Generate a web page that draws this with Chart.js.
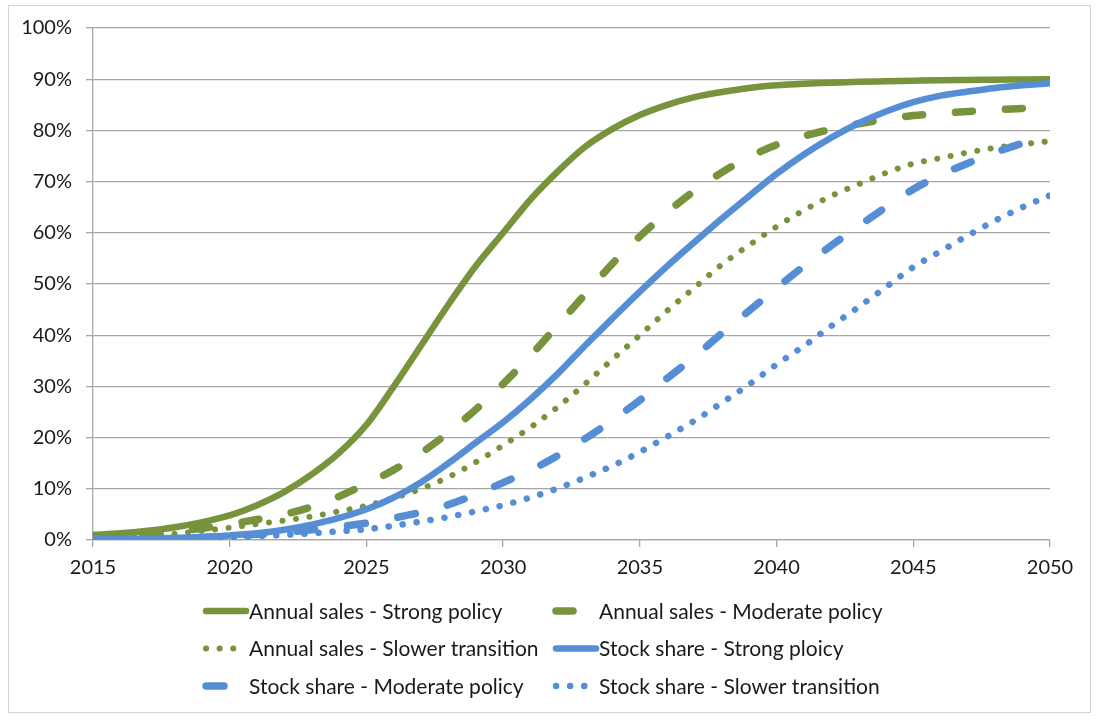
<!DOCTYPE html>
<html>
<head>
<meta charset="utf-8">
<script src="https://cdn.jsdelivr.net/npm/chart.js@4.4.1/dist/chart.umd.min.js"></script>
<style>
  html, body { margin: 0; padding: 0; background: #fff; }
  #wrap { position: relative; width: 1100px; height: 720px; }
  #frame { position: absolute; left: 8px; top: 5px; width: 1081px; height: 706px;
           border: 1px solid #d4d4d4; pointer-events: none; }
</style>
</head>
<body>
<div id="wrap">
  <canvas id="chart" width="1100" height="720"></canvas>
  <div id="frame"></div>
</div>
<script>
const years = [2015, 2016, 2017, 2018, 2019, 2020, 2021, 2022, 2023, 2024, 2025, 2026,
  2027, 2028, 2029, 2030, 2031, 2032, 2033, 2034, 2035, 2036, 2037, 2038,
  2039, 2040, 2041, 2042, 2043, 2044, 2045, 2046, 2047, 2048, 2049, 2050];

const salesStrong = [1.0, 1.3, 1.8, 2.5, 3.5, 4.8, 6.8, 9.4, 12.8, 17.0, 22.5, 30.0,
  38.0, 46.0, 53.5, 60.0, 66.5, 72.0, 76.8, 80.3, 83.0, 85.0, 86.5, 87.5,
  88.3, 88.8, 89.1, 89.3, 89.5, 89.6, 89.7, 89.8, 89.85, 89.9, 89.95, 90.0];

const salesModerate = [0.5, 0.8, 1.2, 1.7, 2.3, 3.1, 4.0, 5.0, 6.5, 8.5, 11.0, 13.7,
  17.0, 21.0, 25.5, 30.5, 36.0, 42.0, 48.0, 54.0, 59.3, 64.0, 68.2, 71.8,
  74.8, 77.2, 78.9, 80.2, 81.3, 82.2, 82.9, 83.3, 83.7, 84.0, 84.3, 84.5];

const salesSlower = [0.3, 0.5, 0.8, 1.2, 1.8, 2.4, 3.1, 3.8, 4.6, 5.6, 6.7, 8.2,
  10.0, 12.3, 15.2, 18.5, 22.0, 26.0, 30.5, 35.3, 40.0, 44.8, 49.3, 53.8,
  57.6, 61.2, 64.4, 67.2, 69.5, 71.7, 73.5, 74.6, 75.7, 76.6, 77.3, 77.9];

const stockStrong = [0.2, 0.2, 0.3, 0.4, 0.6, 0.9, 1.3, 2.0, 3.0, 4.3, 6.0, 8.3,
  11.3, 15.0, 19.0, 23.0, 27.5, 32.5, 38.0, 43.3, 48.5, 53.5, 58.2, 62.8,
  67.2, 71.5, 75.3, 78.6, 81.4, 83.7, 85.5, 86.8, 87.6, 88.3, 88.8, 89.2];

const stockModerate = [0.1, 0.15, 0.2, 0.35, 0.5, 0.8, 1.1, 1.5, 2.0, 2.6, 3.3, 4.3,
  5.4, 6.9, 8.9, 11.2, 13.6, 16.5, 19.8, 23.4, 27.3, 31.6, 35.8, 40.4,
  44.8, 49.2, 53.5, 57.5, 61.3, 65.0, 68.5, 71.3, 73.6, 75.7, 77.5, 79.1];

const stockSlower = [0.1, 0.15, 0.2, 0.3, 0.4, 0.55, 0.75, 1.0, 1.3, 1.7, 2.1, 2.8,
  3.6, 4.5, 5.6, 6.8, 8.3, 10.1, 12.2, 14.5, 17.2, 20.2, 23.3, 26.8,
  30.4, 34.3, 37.9, 41.8, 45.5, 49.4, 53.3, 56.4, 59.5, 62.4, 65.0, 67.3];

const seriesNames = [
  "Annual sales - Strong policy",
  "Annual sales - Moderate policy",
  "Annual sales - Slower transition",
  "Stock share - Strong ploicy",
  "Stock share - Moderate policy",
  "Stock share - Slower transition"
];

const GREEN = "#77933C";
const BLUE = "#558ED5";
const FONT = "Lato, 'Open Sans', sans-serif";

const toXY = (vals) => vals.map((v, i) => ({ x: years[i], y: v }));

// style per series: colour, width, dash
const styles = [
  { c: GREEN, w: 6.5, dash: [] },
  { c: GREEN, w: 7.5, dash: [17, 33] },
  { c: GREEN, w: 6, dash: [0.1, 13.5] },
  { c: BLUE, w: 6.5, dash: [] },
  { c: BLUE, w: 7.5, dash: [18, 33] },
  { c: BLUE, w: 6.5, dash: [0.1, 14] }
];

const allSeries = [salesStrong, salesModerate, salesSlower, stockStrong, stockModerate, stockSlower];

const datasets = allSeries.map((vals, i) => ({
  label: seriesNames[i],
  data: toXY(vals),
  borderColor: styles[i].c,
  backgroundColor: styles[i].c,
  borderWidth: styles[i].w,
  borderDash: styles[i].dash,
  borderCapStyle: "round",
  borderJoinStyle: "round",
  pointRadius: 0,
  cubicInterpolationMode: "monotone",
  fill: false,
  order: 6 - i
}));

// legend drawn as two aligned columns, like the original
const gridLegend = {
  id: "gridLegend",
  afterDraw(chart) {
    const ctx = chart.ctx;
    const top = chart.chartArea.bottom + 71;
    const colX = [203, 553];
    ctx.save();
    ctx.font = "21px " + FONT;
    ctx.textBaseline = "middle";
    chart.data.datasets.forEach((ds, i) => {
      const x = colX[i % 2];
      const y = top + Math.floor(i / 2) * 37.5;
      ctx.strokeStyle = ds.borderColor;
      ctx.lineWidth = ds.borderWidth;
      ctx.lineCap = "round";
      ctx.setLineDash(ds.borderDash);
      ctx.beginPath();
      ctx.moveTo(x + 3, y);
      ctx.lineTo(x + 43, y);
      ctx.stroke();
      ctx.setLineDash([]);
      ctx.fillStyle = "#1a1a1a";
      ctx.fillText(ds.label, x + 46, y + 1);
    });
    ctx.restore();
  }
};

new Chart(document.getElementById("chart"), {
  type: "line",
  data: { datasets: datasets },
  options: {
    responsive: false,
    animation: false,
    layout: { padding: { left: 10, right: 50, top: 28, bottom: 140 } },
    plugins: {
      legend: { display: false },
      tooltip: { enabled: false }
    },
    scales: {
      x: {
        type: "linear",
        min: 2015,
        max: 2050,
        afterFit: (s) => { s.height = 40; },
        ticks: {
          stepSize: 5,
          padding: 9,
          color: "#1a1a1a",
          font: { family: FONT, size: 20 },
          callback: (v) => String(v)
        },
        grid: { drawOnChartArea: false, drawTicks: true, tickLength: 7, color: "#a6a6a6", lineWidth: 1.3 },
        border: { color: "#a6a6a6", width: 1.3 }
      },
      y: {
        min: 0,
        max: 100,
        afterFit: (s) => { s.width = 83; },
        ticks: {
          stepSize: 10,
          padding: 14,
          color: "#1a1a1a",
          font: { family: FONT, size: 20 },
          callback: (v) => v + "%"
        },
        grid: { color: "#a6a6a6", lineWidth: 1.3, tickLength: 7 },
        border: { color: "#a6a6a6", width: 1.3 }
      }
    }
  },
  plugins: [gridLegend]
});
</script>
</body>
</html>
